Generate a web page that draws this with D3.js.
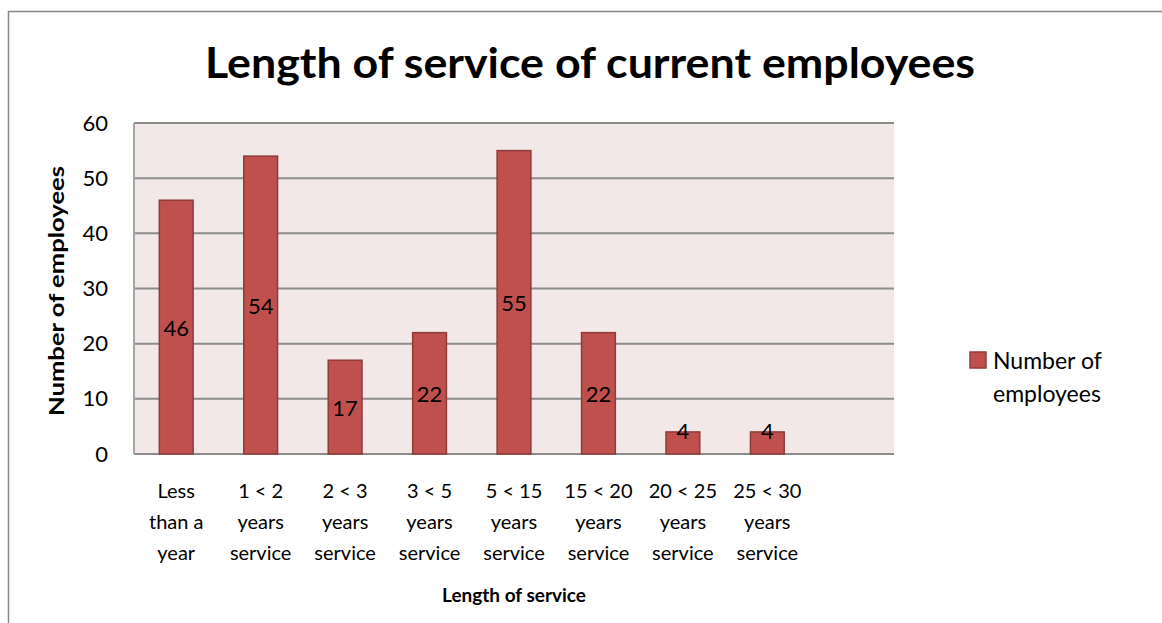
<!DOCTYPE html>
<html>
<head>
<meta charset="utf-8">
<title>Length of service of current employees</title>
<script src="https://cdn.jsdelivr.net/npm/d3@7"></script>
<style>
  body { margin: 0; background: #fff; }
  text { font-family: Lato, "Open Sans", sans-serif; fill: #000; }
</style>
</head>
<body>
<svg id="chart" width="1162" height="623"></svg>
<script>
// data
var categories = ["Less than a year", "1 < 2 years service", "2 < 3 years service", "3 < 5 years service",
                  "5 < 15 years service", "15 < 20 years service", "20 < 25 years service", "25 < 30 years service", ""];
var tickLines = [["Less", "than a", "year"], ["1 < 2", "years", "service"], ["2 < 3", "years", "service"],
                 ["3 < 5", "years", "service"], ["5 < 15", "years", "service"], ["15 < 20", "years", "service"],
                 ["20 < 25", "years", "service"], ["25 < 30", "years", "service"], []];
var employees = [46, 54, 17, 22, 55, 22, 4, 4, null];
var yTicks = [0, 10, 20, 30, 40, 50, 60];

var svg = d3.select("#chart");
var plot = { left: 134, top: 123, right: 894, bottom: 454 };

// outer chart border (only left and top visible)
svg.append("path")
  .attr("d", "M8.5,623 V11.5 H1162")
  .attr("fill", "none").attr("stroke", "#888").attr("stroke-width", 1.5);

var x = d3.scaleBand().domain(d3.range(categories.length))
  .range([plot.left, plot.right]).paddingInner(0.6).paddingOuter(0.3);
var y = d3.scaleLinear().domain([0, 60]).range([plot.bottom, plot.top]);

// plot background
svg.append("rect")
  .attr("x", plot.left).attr("y", plot.top)
  .attr("width", plot.right - plot.left).attr("height", plot.bottom - plot.top)
  .attr("fill", "#F2E8E8");

// gridlines
svg.append("g").selectAll("line").data(yTicks).join("line")
  .attr("x1", plot.left).attr("x2", plot.right)
  .attr("y1", function(d) { return y(d); }).attr("y2", function(d) { return y(d); })
  .attr("stroke", "#8C8C8C").attr("stroke-width", 2);

// left axis line
svg.append("line")
  .attr("x1", plot.left).attr("x2", plot.left)
  .attr("y1", plot.top).attr("y2", plot.bottom)
  .attr("stroke", "#A6A6A6").attr("stroke-width", 2);

// y tick labels
var yAxis = d3.axisLeft(y).tickValues(yTicks).tickSize(0).tickPadding(26);
var gy = svg.append("g").attr("transform", "translate(" + plot.left + ",0)").call(yAxis);
gy.select(".domain").remove();
gy.selectAll("text").style("font-size", "22px").style("font-family", "Lato, sans-serif");

// bars
var bars = categories.map(function(c, i) { return { i: i, v: employees[i] }; })
  .filter(function(d) { return d.v != null; });

svg.append("g").selectAll("rect").data(bars).join("rect")
  .attr("x", function(d) { return x(d.i); })
  .attr("y", function(d) { return y(d.v); })
  .attr("width", x.bandwidth())
  .attr("height", function(d) { return y(0) - y(d.v); })
  .attr("fill", "#C0504D")
  .attr("stroke", "#8E3B39").attr("stroke-width", 1.5);

// data labels (centered, nudged up for short bars)
svg.append("g").selectAll("text").data(bars).join("text")
  .attr("x", function(d) { return x(d.i) + x.bandwidth() / 2; })
  .attr("y", function(d) { return Math.min((y(d.v) + y(0)) / 2, y(0) - 24); })
  .attr("text-anchor", "middle").attr("dominant-baseline", "central")
  .style("font-size", "22px")
  .text(function(d) { return d.v; });

// x tick labels
var gx = svg.append("g").selectAll("text").data(tickLines).join("text")
  .attr("x", function(d, i) { return x(i) + x.bandwidth() / 2; })
  .attr("y", 498)
  .attr("text-anchor", "middle")
  .style("font-size", "20px");
gx.selectAll("tspan").data(function(d) { return d; }).join("tspan")
  .attr("x", function() { return d3.select(this.parentNode).attr("x"); })
  .attr("dy", function(d, i) { return i === 0 ? 0 : 31; })
  .text(function(d) { return d; });

// titles
svg.append("text")
  .attr("x", 590).attr("y", 78)
  .attr("text-anchor", "middle")
  .attr("textLength", 770).attr("lengthAdjust", "spacingAndGlyphs")
  .style("font-size", "42px").style("font-weight", "bold")
  .text("Length of service of current employees");

svg.append("text")
  .attr("x", (plot.left + plot.right) / 2).attr("y", 602)
  .attr("text-anchor", "middle")
  .style("font-size", "19px").style("font-weight", "bold")
  .text("Length of service");

svg.append("text")
  .attr("transform", "translate(64," + 291 + ") rotate(-90)")
  .attr("text-anchor", "middle")
  .attr("textLength", 250).attr("lengthAdjust", "spacingAndGlyphs")
  .style("font-size", "20px").style("font-weight", "bold")
  .text("Number of employees");

// legend
var legend = svg.append("g").attr("transform", "translate(970,352)");
legend.append("rect").attr("width", 16).attr("height", 16)
  .attr("fill", "#C0504D").attr("stroke", "#8E3B39").attr("stroke-width", 1.5);
legend.append("text").attr("x", 23).attr("y", 8).attr("dominant-baseline", "central")
  .style("font-size", "23px")
  .selectAll("tspan").data(["Number of", "employees"]).join("tspan")
  .attr("x", 23).attr("dy", function(d, i) { return i === 0 ? 0 : 33; })
  .text(function(d) { return d; });
</script>
</body>
</html>
